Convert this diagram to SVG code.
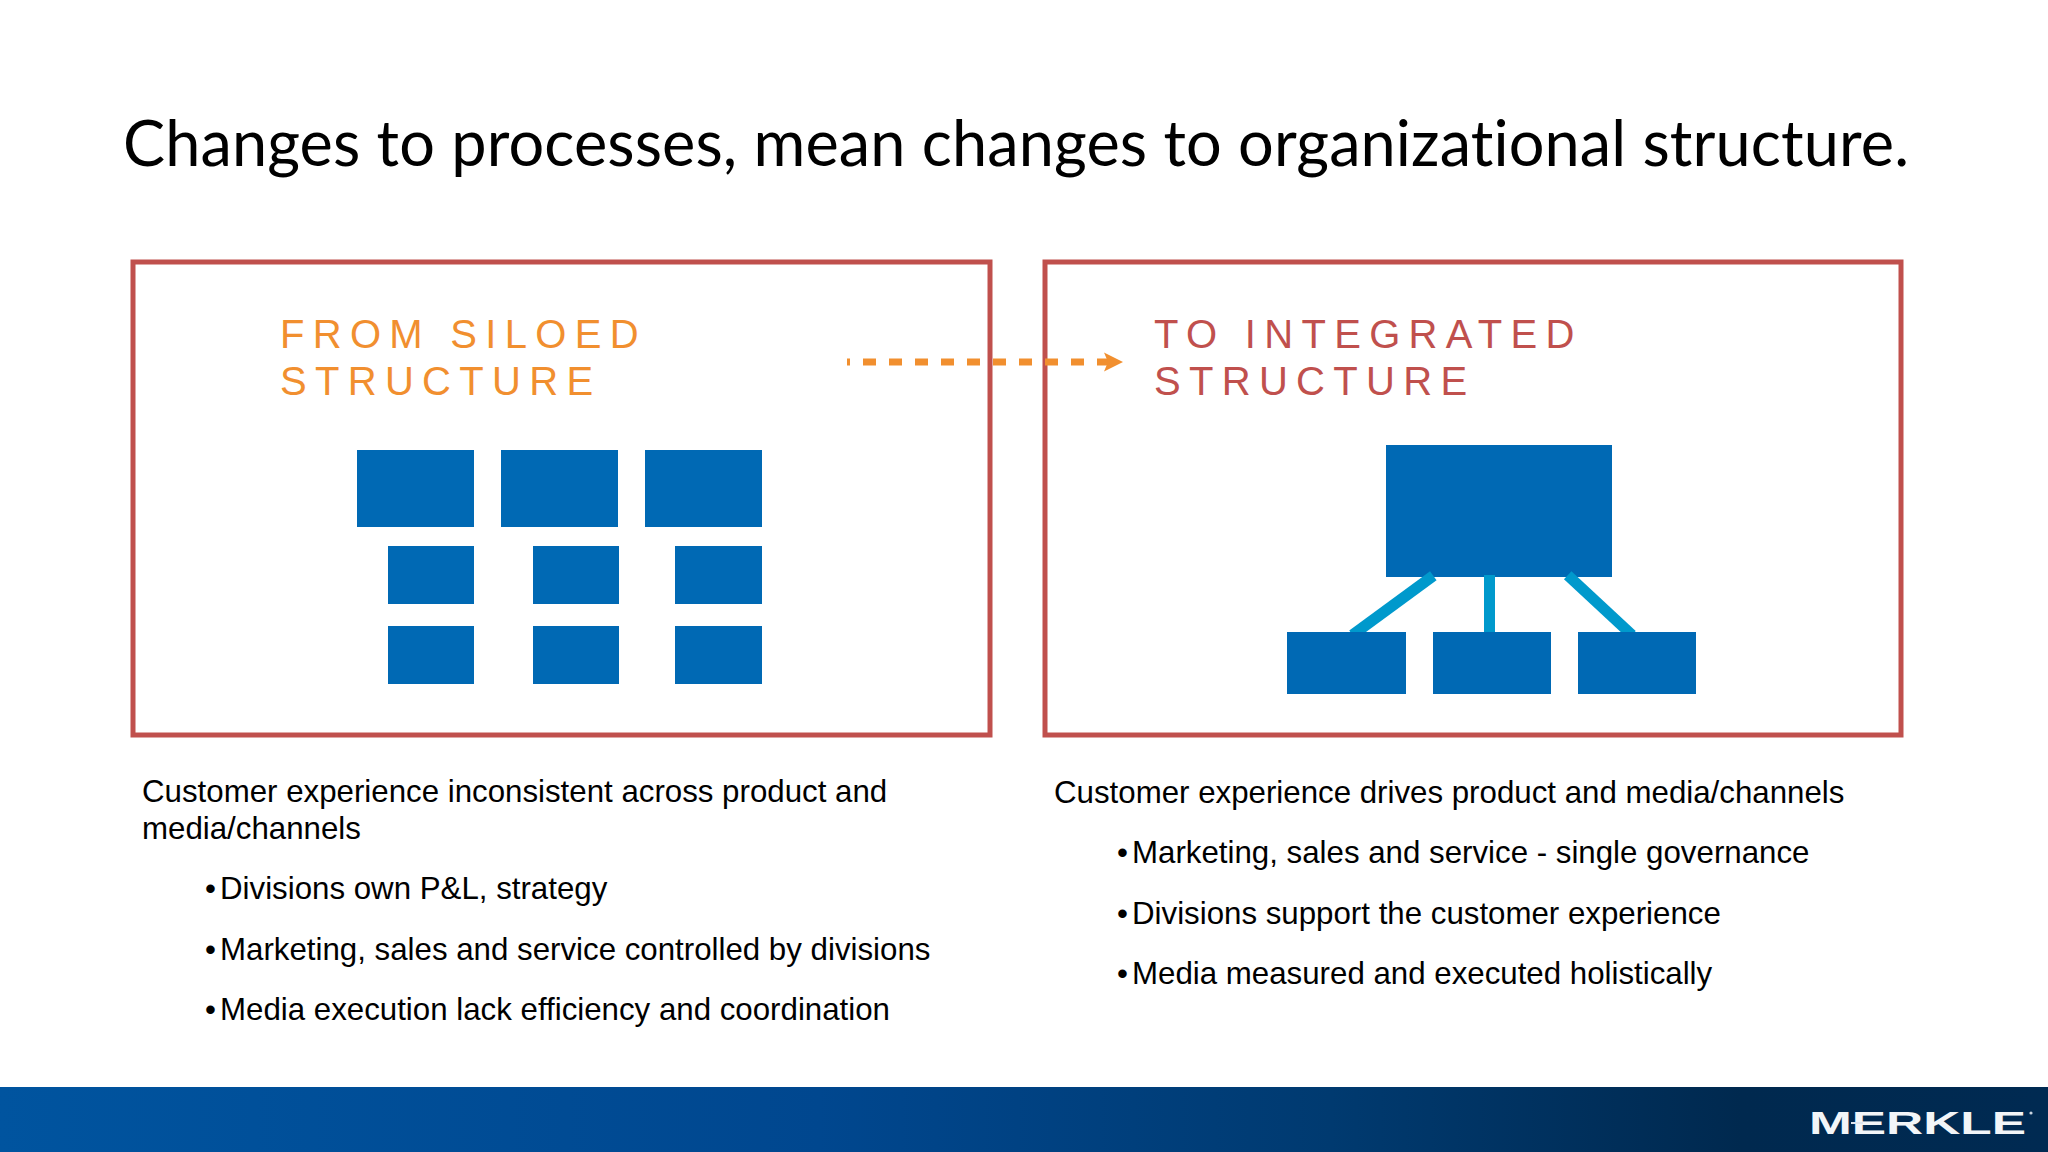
<svg xmlns="http://www.w3.org/2000/svg" width="2048" height="1152" viewBox="0 0 2048 1152">
<defs>
<linearGradient id="band" x1="0" y1="0" x2="1" y2="0"><stop offset="0" stop-color="#00549f"/><stop offset="0.4" stop-color="#00478f"/><stop offset="0.65" stop-color="#003a70"/><stop offset="0.85" stop-color="#00294f"/><stop offset="1" stop-color="#002a52"/></linearGradient>
<marker id="head" markerUnits="userSpaceOnUse" markerWidth="22" markerHeight="22" refX="19" refY="10" orient="auto"><path d="M0,0.5 L19,10 L0,19.5 L4,10 Z" fill="#F18F2F"/></marker>
</defs>
<style>
.b{fill:#0069B4}
.f{fill:none;stroke:#C0504D;stroke-width:5}
.l{stroke:#0099CC;stroke-width:11;fill:none}
.t{font-family:"Liberation Sans",Arial,sans-serif;font-size:31.25px;fill:#000}
.h{font-family:"Liberation Sans",Arial,sans-serif;font-size:40px;letter-spacing:8.3px}
</style>
<rect width="2048" height="1152" fill="#fff"/>
<text x="123" y="166" font-family="Lato,'Open Sans',sans-serif" font-size="63" fill="#000" style="font-variant-ligatures:none" textLength="1786">Changes to processes, mean changes to organizational structure.</text>
<rect class="f" x="133" y="262" width="857" height="473"/>
<rect class="f" x="1045" y="262" width="856" height="473"/>
<g id="from-heading"><text class="h" x="280" y="347.5" fill="#F18F2F">FROM SILOED</text><text class="h" x="280" y="395" fill="#F18F2F">STRUCTURE</text></g>
<g id="to-heading"><text class="h" x="1154" y="347.5" fill="#C0504D">TO INTEGRATED</text><text class="h" x="1154" y="395" fill="#C0504D">STRUCTURE</text></g>
<g id="n1"><rect class="b" x="357" y="450" width="117" height="77"/></g>
<g id="n2"><rect class="b" x="501" y="450" width="117" height="77"/></g>
<g id="n3"><rect class="b" x="645" y="450" width="117" height="77"/></g>
<g id="n4"><rect class="b" x="388" y="546" width="86" height="58"/></g>
<g id="n5"><rect class="b" x="533" y="546" width="86" height="58"/></g>
<g id="n6"><rect class="b" x="675" y="546" width="87" height="58"/></g>
<g id="n7"><rect class="b" x="388" y="626" width="86" height="58"/></g>
<g id="n8"><rect class="b" x="533" y="626" width="86" height="58"/></g>
<g id="n9"><rect class="b" x="675" y="626" width="87" height="58"/></g>
<g id="n10"><rect class="b" x="1386" y="445" width="226" height="132"/></g>
<g id="connectors">
<path d="M847,362 H1123" fill="none" stroke="#F18F2F" stroke-width="7" stroke-dasharray="3 13 13 13 13 13 13 13 13 13 13 13 13 13 13 13 13 13 13 13 13 13" marker-end="url(#head)"/>
<path class="l" d="M1433.3,575.7 L1352.5,635"/>
<path class="l" d="M1489.5,575 V633"/>
<path class="l" d="M1567.7,575.3 L1632,635"/>
</g>
<g id="n11"><rect class="b" x="1287" y="632" width="119" height="62"/></g>
<g id="n12"><rect class="b" x="1433" y="632" width="118" height="62"/></g>
<g id="n13"><rect class="b" x="1578" y="632" width="118" height="62"/></g>
<g id="left-text">
<text class="t" x="142" y="802">Customer experience inconsistent across product and</text>
<text class="t" x="142" y="839">media/channels</text>
<text class="t" x="205" y="899">•</text><text class="t" x="220" y="899">Divisions own P&amp;L, strategy</text>
<text class="t" x="205" y="960">•</text><text class="t" x="220" y="960">Marketing, sales and service controlled by divisions</text>
<text class="t" x="205" y="1020">•</text><text class="t" x="220" y="1020">Media execution lack efficiency and coordination</text>
</g>
<g id="right-text">
<text class="t" x="1054" y="803">Customer experience drives product and media/channels</text>
<text class="t" x="1117" y="863">•</text><text class="t" x="1132" y="863">Marketing, sales and service - single governance</text>
<text class="t" x="1117" y="923.5">•</text><text class="t" x="1132" y="923.5">Divisions support the customer experience</text>
<text class="t" x="1117" y="984">•</text><text class="t" x="1132" y="984">Media measured and executed holistically</text>
</g>
<rect id="footer" x="0" y="1087" width="2048" height="65" fill="url(#band)"/>
<g id="logo"><text x="1809" y="1134" font-family="'Liberation Sans',sans-serif" font-weight="700" font-size="31" fill="#f2f5f8" textLength="217" lengthAdjust="spacingAndGlyphs">MERKLE</text>
<rect x="1851" y="1122" width="12" height="2" fill="#dfe6ee"/><circle cx="2031" cy="1113" r="1.6" fill="#c9d4e0"/></g>
</svg>
